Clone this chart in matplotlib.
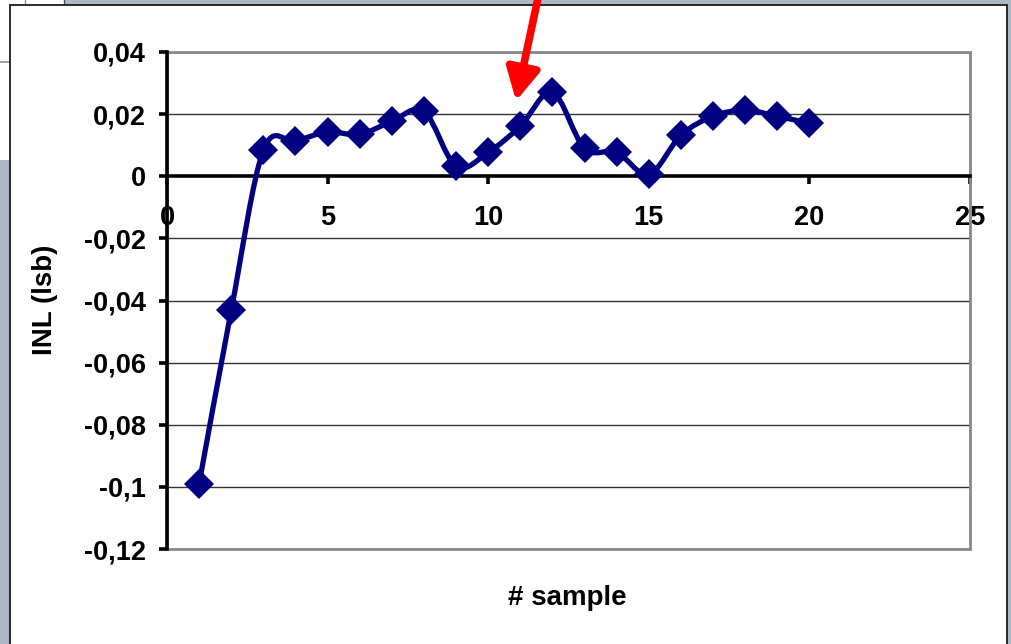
import numpy as np
import matplotlib
matplotlib.use("Agg")
import matplotlib.pyplot as plt
from matplotlib.patches import Rectangle, FancyArrowPatch
from matplotlib.path import Path
from matplotlib.lines import Line2D

# ---- data ----
samples = list(range(1, 21))
inl = [-0.099, -0.0432, 0.0084, 0.0113, 0.0142, 0.0135, 0.0177, 0.0209,
       0.0032, 0.0077, 0.0161, 0.0270, 0.0090, 0.0077, 0.0006, 0.0132,
       0.0193, 0.0213, 0.0193, 0.0171]
x_ticks = [0, 5, 10, 15, 20, 25]
x_ticklabels = ["0", "5", "10", "15", "20", "25"]
y_ticks = [0.04, 0.02, 0.0, -0.02, -0.04, -0.06, -0.08, -0.10, -0.12]
y_ticklabels = ["0,04", "0,02", "0", "-0,02", "-0,04", "-0,06", "-0,08", "-0,1", "-0,12"]
x_label = "# sample"
y_label = "INL (lsb)"

plt.rcParams['font.family'] = ['Liberation Sans', 'DejaVu Sans']
plt.rcParams['font.weight'] = 'bold'

W, H = 1012, 644
fig = plt.figure(figsize=(W / 100, H / 100), dpi=100)
fig.patch.set_facecolor('#aab9c5')

def fx(px):
    return px / W

def fy(py):
    return 1 - py / H

BG = -10
# background window pieces
fig.add_artist(Rectangle((fx(0), fy(160)), fx(10), 155 / H, transform=fig.transFigure,
                         facecolor='white', edgecolor='none', zorder=BG))
fig.add_artist(Line2D([fx(0), fx(10)], [fy(62), fy(62)], transform=fig.transFigure,
                      color='#909090', lw=1.2, zorder=BG + 1))
fig.add_artist(Rectangle((fx(0), fy(5)), fx(64), 5 / H, transform=fig.transFigure,
                         facecolor='white', edgecolor='none', zorder=BG))
fig.add_artist(Line2D([fx(25), fx(25)], [fy(0), fy(5)], transform=fig.transFigure,
                      color='#909090', lw=1, zorder=BG + 1))
fig.add_artist(Line2D([fx(64), fx(64)], [fy(0), fy(5)], transform=fig.transFigure,
                      color='#505050', lw=1, zorder=BG + 1))
# chart area
fig.add_artist(Rectangle((fx(10), fy(660)), fx(1007 - 10), 655 / H, transform=fig.transFigure,
                         facecolor='white', edgecolor='#1a1a1a', lw=1.3, zorder=BG + 2))

L, R, T, B = 167, 970, 52, 549
ax = fig.add_axes([fx(L), fy(B), fx(R - L), (B - T) / H])
ax.set_facecolor('white')
ax.set_xlim(0, 25)
ax.set_ylim(-0.12, 0.04)

# gridlines
for v in y_ticks:
    if v != 0.0:
        ax.axhline(v, color='#333333', lw=1.0, zorder=1)

# plot area border (top, right, bottom)
ax.add_patch(Rectangle((0, 0), 1, 1, transform=ax.transAxes, fill=False,
                       edgecolor='#888888', lw=2.0, zorder=2, clip_on=False))

for s in ['top', 'right']:
    ax.spines[s].set_visible(False)
ax.spines['left'].set_color('black')
ax.spines['left'].set_linewidth(2.6)
ax.spines['left'].set_zorder(3)
ax.spines['bottom'].set_position(('data', 0))
ax.spines['bottom'].set_color('black')
ax.spines['bottom'].set_linewidth(2.6)
ax.spines['bottom'].set_zorder(3)

ax.set_xticks(x_ticks)
ax.set_xticklabels(x_ticklabels, fontsize=19.5, fontweight='bold')
ax.set_yticks(y_ticks)
ax.set_yticklabels(y_ticklabels, fontsize=19.5, fontweight='bold')
ax.tick_params(axis='x', direction='out', length=6, width=2.6, pad=15)
ax.tick_params(axis='y', direction='out', length=6, width=2.6, pad=9)

# smoothed line (Catmull-Rom Bezier in display space, as Excel does)
pts = ax.transData.transform(np.column_stack([samples, inl]))
n = len(pts)
verts = [pts[0]]
codes = [Path.MOVETO]
for i in range(n - 1):
    p0 = pts[i - 1] if i > 0 else pts[i]
    p1 = pts[i]
    p2 = pts[i + 1]
    p3 = pts[i + 2] if i + 2 < n else pts[i + 1]
    c1 = p1 + (p2 - p0) / 6.0
    c2 = p2 - (p3 - p1) / 6.0
    verts += [c1, c2, p2]
    codes += [Path.CURVE4] * 3
path = Path(np.array(verts), codes)
curve = path.to_polygons(closed_only=False)[0]
curve_d = ax.transData.inverted().transform(curve)
ax.plot(curve_d[:, 0], curve_d[:, 1], color='#000080', lw=3.8, zorder=4,
        solid_capstyle='round', solid_joinstyle='round')
ax.plot(samples, inl, linestyle='none', marker='D', ms=15.5, color='#000080',
        markeredgewidth=0, zorder=5)

# axis titles placed in figure pixels
fig.text(fx(567), fy(598), x_label, fontsize=20, fontweight='bold', ha='center', va='center')
fig.text(fx(45), fy(300), y_label, fontsize=20, fontweight='bold', ha='center', va='center',
         rotation=90)

# red arrow annotation
fig.add_artist(FancyArrowPatch(
    (538, H + 2), (516, H - 101), transform=None,
    arrowstyle='-|>,head_length=0.95,head_width=0.5', mutation_scale=20,
    color='#ff0000', lw=5.5, shrinkA=0, shrinkB=0, zorder=20))

fig.savefig('out.png', dpi=100)
